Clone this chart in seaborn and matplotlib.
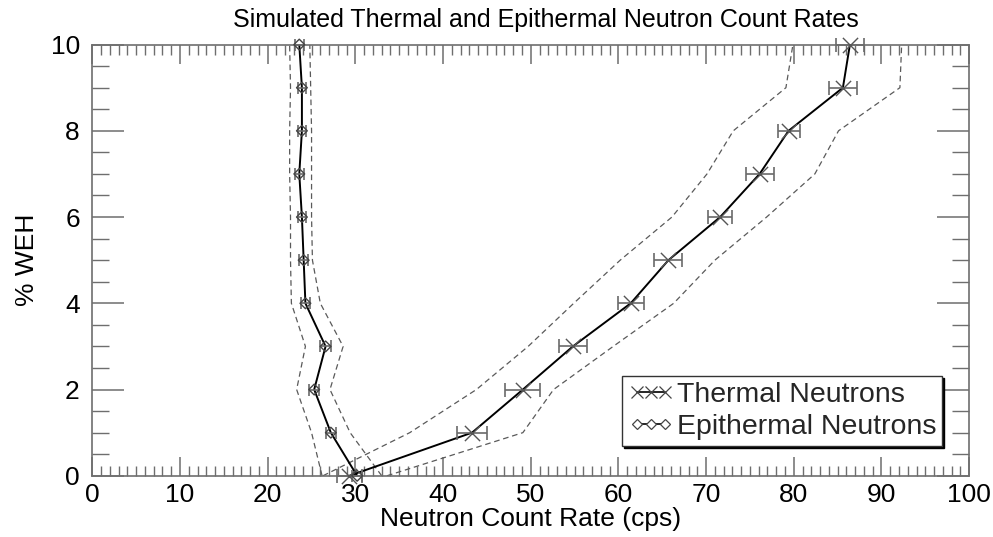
import matplotlib
matplotlib.use("Agg")
import matplotlib.pyplot as plt
from matplotlib.ticker import MultipleLocator
from matplotlib.lines import Line2D
import seaborn as sns
import pandas as pd

# Water-equivalent hydrogen levels (%)
weh = [0, 1, 2, 3, 4, 5, 6, 7, 8, 9, 10]

# Thermal neutron count rate (cps) with 1-sigma errors and envelope bounds
thermal = [29.3, 43.3, 49.1, 54.8, 61.4, 65.7, 71.6, 76.1, 79.4, 85.6, 86.4]
thermal_err = [1.4, 1.7, 2.0, 1.6, 1.5, 1.6, 1.4, 1.6, 1.25, 1.6, 1.55]
thermal_lo = [26.3, 36.2, 43.8, 49.7, 54.9, 60.2, 66.1, 70.1, 73.1, 79.1, 79.9]
thermal_hi = [33.6, 49.1, 52.6, 59.4, 66.3, 71.0, 76.9, 82.4, 85.1, 92.1, 92.3]

# Epithermal neutron count rate (cps) with errors and envelope bounds
epithermal = [30.2, 27.2, 25.3, 26.6, 24.3, 24.1, 23.9, 23.6, 23.9, 23.9, 23.6]
epithermal_err = [0.6, 0.6, 0.6, 0.6, 0.5, 0.5, 0.5, 0.5, 0.5, 0.5, 0.5]
epithermal_lo = [26.2, 25.0, 23.3, 24.3, 22.7, 22.6, 22.6, 22.5, 22.5, 22.6, 22.5]
epithermal_hi = [33.0, 29.4, 27.1, 28.6, 26.0, 25.1, 25.0, 25.0, 25.0, 24.9, 24.8]

labels = ["Thermal Neutrons", "Epithermal Neutrons"]

sns.set_theme(style="white")
plt.rcParams["font.family"] = ["Liberation Sans", "DejaVu Sans"]

DPI = 100
fig = plt.figure(figsize=(9.93, 5.37), dpi=DPI)
ax = fig.add_axes([0.093, 0.114, 0.883, 0.803])

frame_col = "#6e6e6e"
dash_col = "#5a5a5a"
err_col = "#6a6a6a"

df_t = pd.DataFrame({"rate": thermal, "weh": weh})
df_e = pd.DataFrame({"rate": epithermal, "weh": weh})

# uncertainty envelopes
for lo, hi in ((thermal_lo, thermal_hi), (epithermal_lo, epithermal_hi)):
    for bound in (lo, hi):
        sns.lineplot(x=bound, y=weh, sort=False, estimator=None, ax=ax,
                     color=dash_col, lw=0.9, linestyle=(0, (4.5, 3)), zorder=2)

# central curves
sns.lineplot(data=df_t, x="rate", y="weh", sort=False, estimator=None, ax=ax,
             color="black", lw=1.4, zorder=3)
sns.lineplot(data=df_e, x="rate", y="weh", sort=False, estimator=None, ax=ax,
             color="black", lw=1.4, zorder=3)

# error bars and symbols
ax.errorbar(thermal, weh, xerr=thermal_err, fmt="none", ecolor=err_col,
            elinewidth=1.2, capsize=5, capthick=1.2, zorder=4, clip_on=False)
ax.errorbar(epithermal, weh, xerr=epithermal_err, fmt="none", ecolor=err_col,
            elinewidth=1.2, capsize=4, capthick=1.2, zorder=4, clip_on=False)
sns.scatterplot(x=thermal, y=weh, marker="x", s=120, color="#555555",
                linewidth=1.0, ax=ax, zorder=5, clip_on=False)
sns.scatterplot(x=epithermal, y=weh, marker="D", s=30, facecolor="none",
                edgecolor="#444444", linewidth=1.0, ax=ax, zorder=5, clip_on=False)

ax.set_xlim(0, 100)
ax.set_ylim(0, 10)
ax.xaxis.set_major_locator(MultipleLocator(10))
ax.xaxis.set_minor_locator(MultipleLocator(1))
ax.yaxis.set_major_locator(MultipleLocator(2))
ax.yaxis.set_minor_locator(MultipleLocator(0.5))

for sp in ax.spines.values():
    sp.set_color(frame_col)
    sp.set_linewidth(1.2)
    sp.set_visible(True)

ax.tick_params(axis="x", which="major", direction="in", length=13.5, width=1.1,
               color=frame_col, top=True, bottom=True, labelsize=19, pad=5,
               labelcolor="black")
ax.tick_params(axis="x", which="minor", direction="in", length=7, width=1.0,
               color=frame_col, top=True, bottom=True)
ax.tick_params(axis="y", which="major", direction="in", length=23, width=1.1,
               color=frame_col, left=True, right=True, labelsize=19, pad=9,
               labelcolor="black")
ax.tick_params(axis="y", which="minor", direction="in", length=12, width=1.0,
               color=frame_col, left=True, right=True)

ax.set_xlabel("Neutron Count Rate (cps)", fontsize=19, labelpad=0, color="black")
ax.set_ylabel("% WEH", fontsize=19, labelpad=8, color="black")
fig.text(0.55, 0.962, "Simulated Thermal and Epithermal Neutron Count Rates",
         ha="center", va="center", fontsize=18, color="black")

handles = [
    Line2D([], [], color="black", lw=1.2, marker="x", markersize=9,
           markeredgecolor="#444444", markeredgewidth=0.9),
    Line2D([], [], color="black", lw=1.2, marker="D", markersize=5.5,
           markerfacecolor="white", markeredgecolor="#444444", markeredgewidth=0.9),
]
leg = ax.legend(handles, labels, loc="lower left", bbox_to_anchor=(0.604, 0.069),
                numpoints=3, handlelength=1.6, handletextpad=0.1,
                labelspacing=0.2, borderpad=0.22, borderaxespad=0, frameon=True,
                fancybox=False,
                shadow={"color": "black", "alpha": 1, "ox": 1.5, "oy": -1.5},
                prop={"family": ["Liberation Sans", "DejaVu Sans"], "size": 20.5})
leg.get_frame().set_edgecolor("#333333")
leg.get_frame().set_linewidth(1.0)

fig.savefig("out.png", dpi=DPI, facecolor="white")
